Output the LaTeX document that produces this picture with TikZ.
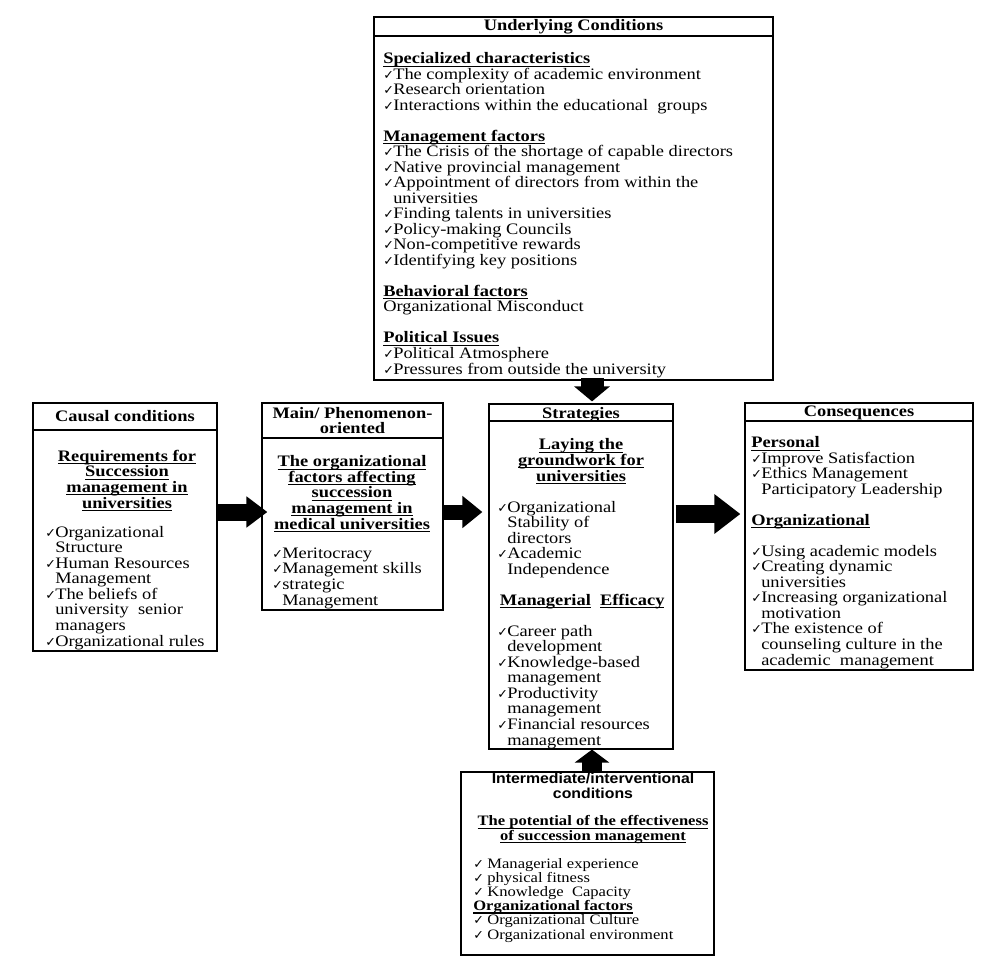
\documentclass[tikz,border=0pt]{standalone}
\usepackage{fontspec}
\setmainfont[FakeStretch=1.15]{Liberation Serif}
\newfontfamily\checkfont{DejaVu Sans}
\newfontfamily\headsans[FakeStretch=1.1]{Liberation Sans}
\usetikzlibrary{arrows.meta,fit}

\newcommand\ck{\makebox[7.5pt][l]{\checkfont\fontsize{9.5}{8}\selectfont ✓}}
\newcommand\contd{\hspace*{7.5pt}}
\newcommand\uhead[1]{\textbf{\setbox0\hbox{#1}\rlap{\vrule width\wd0 height -1.4pt depth 2.2pt}\box0}}
\lineskiplimit=-5pt

\tikzset{
    frame/.style={draw, line width=0.9pt, inner sep=0pt},
    titlefont/.style={inner sep=0pt, font=\fontsize{12}{11.6}\selectfont\bfseries},
    body/.style={inner sep=0pt, font=\fontsize{12}{11.63}\selectfont},
    small body/.style={inner sep=0pt, font=\fontsize{10.8}{10.65}\selectfont},
    heading/.style={body, align=center},
    list/.style={body, align=left},
}

\begin{document}
\begin{tikzpicture}[x=0.75pt, y=-0.75pt]
    \useasboundingbox (0,0) rectangle (1000,960);

    % frames
    \node[frame, fit={(374,17) (773,380)}] (uc) {};
    \node[frame, fit={(33,403) (217,651)}] (cc) {};
    \node[frame, fit={(262,403) (443,610)}] (mp) {};
    \node[frame, fit={(489,404) (673,749)}] (st) {};
    \node[frame, fit={(745,403) (973,670)}] (cq) {};
    \node[frame, fit={(461,772) (714,955)}] (ic) {};

    % title bands
    \node[frame, fit={(374,17) (773,36)}] (uc band) {};
    \node[frame, fit={(33,403) (217,430)}] (cc band) {};
    \node[frame, fit={(262,403) (443,438)}] (mp band) {};
    \node[frame, fit={(489,404) (673,421)}] (st band) {};
    \node[frame, fit={(745,403) (973,421)}] (cq band) {};
    \node[titlefont] (uc title) at (uc band) {Underlying Conditions};
    \node[titlefont] (cc title) at (cc band) {Causal conditions};
    \node[titlefont, align=center] (mp title) at (mp band) {Main/ Phenomenon-\\oriented};
    \node[titlefont] (st title) at ([yshift=-1.5pt]st band) {Strategies};
    \node[titlefont] (cq title) at ([yshift=-1pt]cq band) {Consequences};

    % underlying conditions
    \node[list, anchor=base west] (uc list) at (383,374) {
        \uhead{Specialized characteristics}\\
        \ck The complexity of academic environment\\
        \ck Research orientation\\
        \ck Interactions within the educational\ \ groups\\[11.63pt]
        \uhead{Management factors}\\
        \ck The Crisis of the shortage of capable directors\\
        \ck Native provincial management\\
        \ck Appointment of directors from within the\\
        \contd universities\\
        \ck Finding talents in universities\\
        \ck Policy-making Councils\\
        \ck Non-competitive rewards\\
        \ck Identifying key positions\\[11.63pt]
        \uhead{Behavioral factors}\\
        Organizational Misconduct\\[11.63pt]
        \uhead{Political Issues}\\
        \ck Political Atmosphere\\
        \ck Pressures from outside the university};

    % causal conditions
    \node[heading, anchor=base] (cc head) at (127,508) {
        \uhead{Requirements for}\\
        \uhead{Succession}\\
        \uhead{management in}\\
        \uhead{universities}};
    \node[list, anchor=base west] (cc list) at (45,646) {
        \ck Organizational\\
        \contd Structure\\
        \ck Human Resources\\
        \contd Management\\
        \ck The beliefs of\\
        \contd university\ \ senior\\
        \contd managers\\
        \ck Organizational rules};

    % main / phenomenon
    \node[heading, anchor=base] (mp head) at (352,529) {
        \uhead{The organizational}\\
        \uhead{factors affecting}\\
        \uhead{succession}\\
        \uhead{management in}\\
        \uhead{medical universities}};
    \node[list, anchor=base west] (mp list) at (272,605) {
        \ck Meritocracy\\
        \ck Management skills\\
        \ck strategic\\
        \contd Management};

    % strategies
    \node[heading, anchor=base] (st head) at (581,481) {
        \uhead{Laying the}\\
        \uhead{groundwork for}\\
        \uhead{universities}};
    \node[list, anchor=base west] (st list) at (497,745) {
        \ck Organizational\\
        \contd Stability of\\
        \contd directors\\
        \ck Academic\\
        \contd Independence\\[11.63pt]
        \hspace*{2pt}\uhead{Managerial}\ \ \uhead{Efficacy}\\[11.63pt]
        \ck Career path\\
        \contd development\\
        \ck Knowledge-based\\
        \contd management\\
        \ck Productivity\\
        \contd management\\
        \ck Financial resources\\
        \contd management};

    % consequences
    \node[list, anchor=base west] (cq list) at (751,665) {
        \uhead{Personal}\\
        \ck Improve Satisfaction\\
        \ck Ethics Management\\
        \contd Participatory Leadership\\[11.63pt]
        \uhead{Organizational}\\[11.63pt]
        \ck Using academic models\\
        \ck Creating dynamic\\
        \contd universities\\
        \ck Increasing organizational\\
        \contd motivation\\
        \ck The existence of\\
        \contd counseling culture in the\\
        \contd academic\ \ management};

    % intermediate conditions
    \node[small body, align=center, anchor=base] (ic title) at (593,798) {
        \headsans\bfseries Intermediate/interventional\\
        \headsans\bfseries conditions};
    \node[small body, align=center, anchor=base] (ic head) at (593,840) {
        \uhead{The potential of the effectiveness}\\
        \uhead{of succession management}};
    \node[small body, align=left, anchor=base west] (ic list) at (473,939) {
        \ck\ Managerial experience\\
        \ck\ physical fitness\\
        \ck\ Knowledge\ \ Capacity\\
        \uhead{Organizational factors}\\
        \ck\ Organizational Culture\\
        \ck\ Organizational environment};

    % block arrows
    \coordinate (row) at (0,512);
    \coordinate (row2) at (0,514);
    \coordinate (col) at (592,0);
    \draw[line width=12.75pt, -{Triangle[length=15.75pt,width=22.5pt]}, shorten >=-4.5pt] (cc.east |- row) -- (mp.west |- row);
    \draw[line width=11.25pt, -{Triangle[length=15pt,width=23.25pt]}, shorten >=4.5pt] (mp.east |- row) -- (st.west |- row);
    \draw[line width=13.5pt, -{Triangle[length=19.5pt,width=28.5pt]}, shorten <=1.5pt, shorten >=3pt] (st.east |- row2) -- (cq.west |- row2);
    \draw[line width=17.25pt, -{Triangle[length=11.25pt,width=26.25pt]}, shorten <=-2pt, shorten >=1.5pt] (uc.south -| col) -- (st.north -| col);
    \draw[line width=15pt, -{Triangle[length=9.75pt,width=25.5pt]}] (ic.north -| col) -- (st.south -| col);
\end{tikzpicture}
\end{document}
